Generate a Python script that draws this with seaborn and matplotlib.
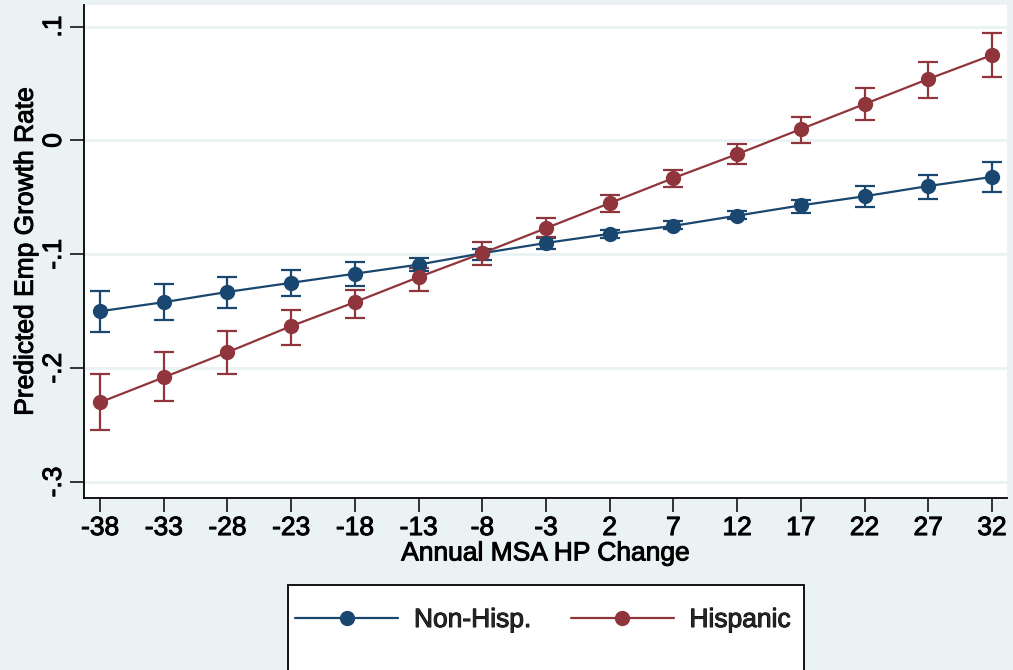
import numpy as np
import pandas as pd
import seaborn as sns
import matplotlib
matplotlib.use("Agg")
import matplotlib.pyplot as plt
import matplotlib.patheffects as pe
from matplotlib.patches import Rectangle

# Annual MSA house-price change (x) and predicted employment growth with 95% CIs
hp_change = [-38, -33, -28, -23, -18, -13, -8, -3, 2, 7, 12, 17, 22, 27, 32]

nonhisp_pred = [-0.150, -0.142, -0.133, -0.125, -0.117, -0.109, -0.099, -0.090,
                -0.082, -0.075, -0.066, -0.057, -0.049, -0.040, -0.032]
nonhisp_lo = [-0.168, -0.158, -0.147, -0.137, -0.128, -0.115, -0.105, -0.095,
              -0.086, -0.078, -0.069, -0.064, -0.058, -0.051, -0.045]
nonhisp_hi = [-0.132, -0.126, -0.120, -0.114, -0.107, -0.103, -0.095, -0.086,
              -0.079, -0.071, -0.062, -0.052, -0.040, -0.030, -0.019]

hisp_pred = [-0.230, -0.208, -0.186, -0.163, -0.142, -0.120, -0.099, -0.077,
             -0.055, -0.033, -0.012, 0.010, 0.032, 0.054, 0.075]
hisp_lo = [-0.254, -0.229, -0.205, -0.180, -0.156, -0.132, -0.109, -0.085,
           -0.063, -0.041, -0.021, -0.002, 0.018, 0.037, 0.056]
hisp_hi = [-0.205, -0.186, -0.167, -0.149, -0.131, -0.112, -0.089, -0.068,
           -0.048, -0.026, -0.003, 0.021, 0.046, 0.069, 0.094]

groups = ["Non-Hisp.", "Hispanic"]
y_ticks = [0.1, 0.0, -0.1, -0.2, -0.3]
y_ticklabels = [".1", "0", "-.1", "-.2", "-.3"]

navy = "#1a476f"
maroon = "#90353b"
bg = "#eaf2f3"

sns.set_theme(style="white")
plt.rcParams["font.family"] = ["Liberation Sans", "DejaVu Sans"]

FS = 19
heavy = [pe.withStroke(linewidth=0.7, foreground="black")]

df = pd.DataFrame({
    "x": hp_change * 2,
    "y": nonhisp_pred + hisp_pred,
    "lo": nonhisp_lo + hisp_lo,
    "hi": nonhisp_hi + hisp_hi,
    "group": [groups[0]] * len(hp_change) + [groups[1]] * len(hp_change),
})

fig = plt.figure(figsize=(10.13, 6.70), dpi=100, facecolor=bg)
ax = fig.add_axes([84 / 1013, 1 - 498 / 670, (1007 - 84) / 1013, (498 - 5) / 670])
ax.set_facecolor("white")

palette = {groups[0]: navy, groups[1]: maroon}

# confidence intervals as capped bars
for g in groups:
    sub = df[df["group"] == g]
    ax.errorbar(sub["x"], sub["y"],
                yerr=[sub["y"] - sub["lo"], sub["hi"] - sub["y"]],
                fmt="none", ecolor=palette[g], elinewidth=1.6,
                capsize=7, capthick=1.6, zorder=3)

sns.lineplot(data=df, x="x", y="y", hue="group", hue_order=groups,
             palette=palette, marker="o", markersize=11, markeredgewidth=0,
             linewidth=1.6, ax=ax, legend=False, zorder=4)

ax.set_xlim(-39.26, 33.18)
ax.set_ylim(-0.314, 0.119)
ax.set_xticks(hp_change)
ax.set_xticklabels([str(v) for v in hp_change], fontsize=FS)
ax.set_yticks(y_ticks)
ax.set_yticklabels(y_ticklabels, fontsize=FS, rotation=90, va="center")
for lbl in ax.get_xticklabels() + ax.get_yticklabels():
    lbl.set_path_effects(heavy)

ax.grid(axis="y", color=bg, linewidth=2)
ax.grid(axis="x", visible=False)
ax.set_axisbelow(True)

for side in ["top", "right"]:
    ax.spines[side].set_visible(False)
for side in ["left", "bottom"]:
    ax.spines[side].set_color("black")
    ax.spines[side].set_linewidth(1.3)

ax.tick_params(axis="both", which="major", direction="out", length=10,
               width=1.1, color="black", labelcolor="black", pad=3,
               bottom=True, left=True)

ax.set_xlabel("Annual MSA HP Change", fontsize=FS, color="black", labelpad=1,
              path_effects=heavy)
ax.set_ylabel("Predicted Emp Growth Rate", fontsize=FS, color="black", labelpad=3,
              path_effects=heavy)

# legend box running off the bottom edge
fig.patches.append(Rectangle((288 / 1013, -0.05), (804 - 288) / 1013,
                             (670 - 585) / 670 + 0.05, transform=fig.transFigure,
                             facecolor="white", edgecolor="black", linewidth=1.3,
                             zorder=0))
handles = [plt.Line2D([], [], color=palette[g], marker="o", markersize=11,
                      markeredgewidth=0, linewidth=1.6) for g in groups]
leg = fig.legend(handles, groups, loc="center",
                 bbox_to_anchor=(543 / 1013, 1 - 620 / 670),
                 ncol=2, frameon=False, fontsize=FS, handlelength=3.9,
                 handletextpad=0.6, columnspacing=1.5)
for t in leg.get_texts():
    t.set_path_effects(heavy)

fig.savefig("out.png", dpi=100, facecolor=bg)
